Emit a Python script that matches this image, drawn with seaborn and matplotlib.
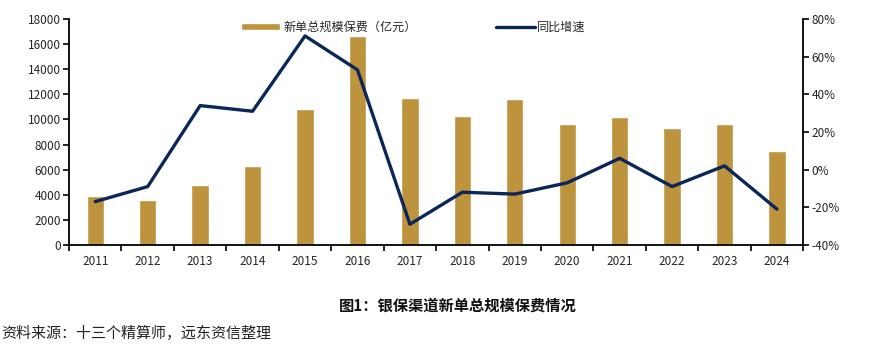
import matplotlib
matplotlib.use("Agg")
import matplotlib.pyplot as plt
import seaborn as sns
import pandas as pd
from matplotlib.ticker import FuncFormatter, MultipleLocator

years = ["2011", "2012", "2013", "2014", "2015", "2016", "2017",
         "2018", "2019", "2020", "2021", "2022", "2023", "2024"]
premium = [3900, 3600, 4800, 6300, 10850, 16650, 11700,
           10300, 11650, 9650, 10200, 9300, 9600, 7500]
growth = [-17, -9, 34, 31, 71, 53, -29,
          -12, -13, -7, 6, -9, 2, -21]

bar_label = "新单总规模保费（亿元）"
line_label = "同比增速"
caption = "图1：银保渠道新单总规模保费情况"
source = "资料来源：十三个精算师，远东资信整理"

df = pd.DataFrame({"year": years, "premium": premium, "growth": growth})

sns.set_theme(style="white")
plt.rcParams["font.family"] = ["Noto Sans CJK SC", "DejaVu Sans"]

gold = "#BE933D"
navy = "#0B2659"

fig = plt.figure(figsize=(8.74, 3.45), dpi=100)
ax = fig.add_axes([0.079, 0.29, 0.84, 0.655])
ax2 = ax.twinx()

sns.barplot(data=df, x="year", y="premium", color=gold, width=0.33,
            saturation=1, ax=ax, label=bar_label)
sns.lineplot(data=df, x="year", y="growth", color=navy, linewidth=2.4,
             ax=ax2, label=line_label, sort=False)

ax.set_xlim(-0.5, len(years) - 0.5)
ax.set_ylim(0, 18000)
ax.yaxis.set_major_locator(MultipleLocator(2000))
ax2.set_ylim(-40, 80)
ax2.yaxis.set_major_locator(MultipleLocator(20))
ax2.yaxis.set_major_formatter(FuncFormatter(lambda v, p: f"{v:.0f}%"))

ax.set_xlabel("")
ax.set_ylabel("")
ax2.set_ylabel("")

# category boundary ticks on the x axis
ax.set_xticks(range(len(years)))
ax.set_xticklabels(years)
ax.tick_params(axis="x", which="major", length=0, labelsize=8.5, pad=7)
ax.set_xticks([i + 0.5 for i in range(-1, len(years))], minor=True)
ax.tick_params(axis="x", which="minor", length=4, width=1.2, color="black",
               direction="out", bottom=True)
ax.tick_params(axis="y", length=4, width=1.2, color="black", direction="out",
               labelsize=8.5, pad=2, left=True)
ax2.tick_params(axis="y", length=4, width=1.2, color="black", direction="out",
                labelsize=8.5, pad=2, right=True)

for a in (ax, ax2):
    a.grid(False)
    a.spines["top"].set_visible(False)
    for s in ("left", "right", "bottom"):
        a.spines[s].set_color("black")
        a.spines[s].set_linewidth(1.3)
ax.spines["right"].set_visible(False)
ax2.spines["left"].set_visible(False)
ax2.spines["bottom"].set_visible(False)

ax.legend(loc="upper left", bbox_to_anchor=(0.22, 1.04), frameon=False,
          fontsize=8.7, handlelength=3.2, handleheight=0.6,
          handletextpad=0.3)
ax2.legend(loc="upper left", bbox_to_anchor=(0.567, 1.04), frameon=False,
           fontsize=8.7, handlelength=3.2, handletextpad=0.2)

fig.text(0.524, 0.113, caption, ha="center", va="center", fontsize=11,
         fontweight="bold", color="#111111")
fig.text(0.002, 0.033, source, ha="left", va="center", fontsize=10.8,
         color="#222222")

fig.savefig("out.png", dpi=100, facecolor="white")
